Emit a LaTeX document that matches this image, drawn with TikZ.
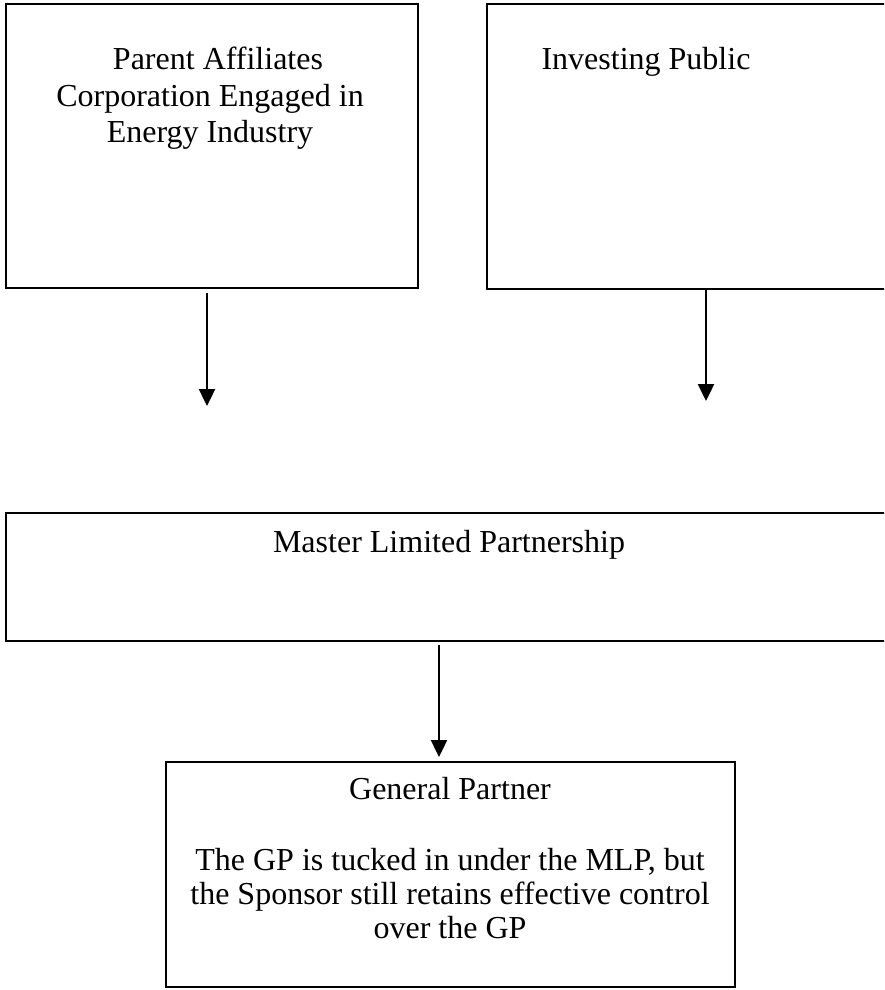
\documentclass[tikz,border=0pt]{standalone}
\usepackage{fontspec}
\setmainfont{Liberation Serif}
\usetikzlibrary{arrows.meta}
\begin{document}
\begin{tikzpicture}[x=1pt,y=-1pt,
  box/.style={draw=black,line width=1.8pt,rectangle,inner sep=0pt,outer sep=0pt},
  txt/.style={anchor=base,inner sep=0pt,font=\fontsize{32}{35}\selectfont},
  arr/.style={line width=2.4pt,-{Triangle[width=16pt,length=17pt]}}]
\useasboundingbox (0,0) rectangle (884,990);
\clip (0,0) rectangle (884,990);
% boxes
\node[box,minimum width=412pt,minimum height=284pt] (b1) at (212,146) {};
\node[box,minimum width=440pt,minimum height=285pt] (b2) at (707,146.5) {};
\node[box,minimum width=920pt,minimum height=128pt] (b3) at (466,577) {};
\node[box,minimum width=569pt,minimum height=225pt] (b4) at (450.5,874.5) {};
% texts
\node[txt] (t1a) at (218,70) {Parent Affiliates};
\node[txt] (t1b) at (210,106) {Corporation Engaged in};
\node[txt] (t1c) at (210,142) {Energy Industry};
\node[txt] (t2) at (646,70) {Investing Public};
\node[txt] (t3) at (449,552) {Master Limited Partnership};
\node[txt] (t4a) at (450,799) {General Partner};
\node[txt] (t4b) at (450,870) {The GP is tucked in under the MLP, but};
\node[txt] (t4c) at (450,904) {the Sponsor still retains effective control};
\node[txt] (t4d) at (450,938) {over the GP};
% connectors
\coordinate (s1) at (207,293);
\coordinate (e1) at (207,406);
\coordinate (e2) at (706,401);
\coordinate (e3) at (439,757);
\draw[arr] (s1) -- (e1);
\draw[arr] (b2.south -| e2) -- (e2);
\draw[arr] ([yshift=-4pt]b3.south -| e3) -- (e3);
\end{tikzpicture}
\end{document}
